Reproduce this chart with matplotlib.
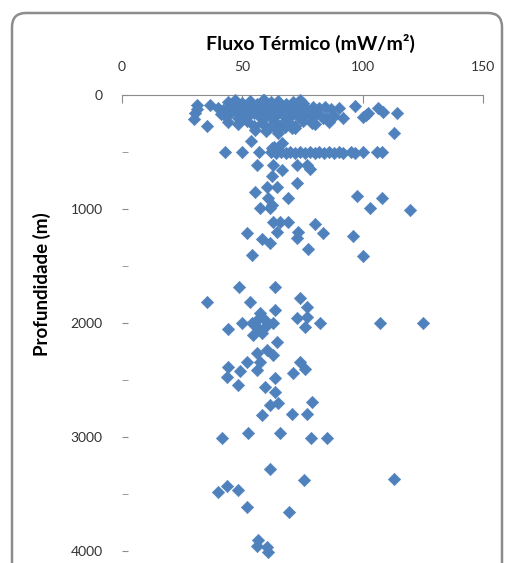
import matplotlib.pyplot as plt
from matplotlib.patches import FancyBboxPatch

flux_top = [31, 36.6, 30.3, 30, 35.2, 31, 96.8, 101.4, 106.5, 108.6, 114.1, 100.3, 102.3,
            91.9, 84.3, 85, 79.5, 75.3, 83.6, 71.9, 78.8, 113, 52.3, 46.9, 58.6, 67.7,
            44, 47, 50, 53, 56, 59, 62, 65, 68, 71, 74, 47,
            40, 42, 45, 47, 49, 51, 54, 56, 58, 60, 62, 64, 66, 68, 70, 72, 74, 77, 80, 82, 87, 90,
            41, 43, 45, 48, 50, 52, 55, 57, 59, 61, 63, 65, 67, 69, 71, 73, 76, 79, 81, 88,
            44, 48, 52, 55, 58, 61, 63, 66, 69, 72, 75, 80, 86, 64, 60,
            65, 55.3, 70.5, 78.8]
depth_top = [88, 88, 161, 213, 268, 120, 96, 175, 117, 146, 161, 190, 161,
             205, 102, 205, 102, 73, 205, 292, 248, 336, 125, 100, 44, 280,
             60, 45, 70, 55, 80, 40, 65, 50, 75, 60, 45, 90,
             110, 130, 100, 120, 140, 105, 125, 95, 135, 110, 125, 100, 140, 115, 95, 130, 105, 120, 135, 110, 125, 110,
             165, 185, 155, 200, 170, 190, 160, 180, 205, 170, 190, 155, 175, 195, 165, 185, 170, 195, 160, 180,
             235, 255, 225, 270, 245, 290, 230, 260, 240, 275, 225, 255, 240, 300, 320,
             336, 307, 292, 234]

flux_500 = [53.6, 62.2, 66.3, 63,
            43, 50, 57, 62, 64, 66, 68, 70, 72, 74, 76, 78, 80, 82, 84, 86, 88, 90, 92, 95, 97, 100, 106, 108,
            56, 62.9, 66.3, 72.6, 76.7, 78.1, 62.2, 72.6]
depth_500 = [404, 468, 424, 455,
             497, 497, 497, 503, 506, 500, 506, 503, 506, 503, 506, 503, 506, 503, 506, 503, 506, 503, 506, 503, 506, 503, 503, 500,
             614, 614, 658, 614, 614, 652, 711, 775]

flux_1000 = [55.3, 60.1, 64.3, 60.8, 69.1, 57.3, 62.2, 61.5, 97.5, 107.9, 103, 119.6,
             62.9, 65.6, 69.1, 80.2, 83.6, 51.8, 64.3, 73.3, 72.6, 58, 61.5, 77.4, 53.9, 95.8, 100]
depth_1000 = [854, 804, 804, 906, 906, 994, 965, 994, 886, 906, 994, 1009,
              1111, 1111, 1111, 1132, 1208, 1208, 1199, 1199, 1257, 1266, 1295, 1354, 1404, 1237, 1409]

flux_2000 = [35.2, 48.7, 63.6, 53.2, 74, 76.7, 57.3, 63.6,
             44.2, 49.7, 53.9, 59.4, 62.9, 56.6, 54.5, 58, 72.6, 76, 82.3, 76.7, 64.3, 107.2, 124.9, 60, 57,
             56, 60.1, 62.9, 57.3, 51.8, 44.2, 43.5, 49, 48.3, 56, 74, 71.2, 76, 63.6, 59.4, 63.6]
depth_2000 = [1813, 1687, 1687, 1813, 1784, 1863, 1909, 1886,
              2056, 2003, 1997, 1974, 1997, 2047, 2105, 2090, 1959, 2032, 2003, 1944, 2164, 2003, 2003, 2030, 1960,
              2266, 2237, 2281, 2339, 2339, 2383, 2471, 2418, 2544, 2412, 2339, 2442, 2406, 2485, 2564, 2602]

flux_3000 = [61.5, 64.9, 78.8, 58, 70.5, 76.7, 41.4, 52.5, 65.6, 78.4, 85.3,
             61.5, 75.6, 113, 40, 43.7, 48.3, 51.8, 69.4, 56.6, 56, 60.1, 60.5]
depth_3000 = [2719, 2705, 2690, 2807, 2798, 2798, 3012, 2968, 2968, 3012, 3012,
              3281, 3377, 3370, 3479, 3430, 3465, 3611, 3661, 3904, 3956, 3962, 4006]

flux = flux_top + flux_500 + flux_1000 + flux_2000 + flux_3000
depth = depth_top + depth_500 + depth_1000 + depth_2000 + depth_3000

W, H = 510, 563
fig = plt.figure(figsize=(W / 100, H / 100), dpi=100)

# moldura arredondada da area do grafico
frame = FancyBboxPatch((12, -40), 490, H - 13 + 40, boxstyle="round,pad=0,rounding_size=14",
                       transform=None, facecolor='white', edgecolor='#8c8c8c', linewidth=1.8,
                       zorder=-10)
fig.add_artist(frame)

ax = fig.add_axes([122 / W, 12 / H, 361 / W, 456 / H])
ax.set_zorder(5)
ax.patch.set_alpha(0)
ax.scatter(flux, depth, marker='D', s=40, color='#4F81BD', edgecolors='#4F81BD',
           linewidths=0.4, zorder=3, clip_on=False)

ax.set_xlim(0, 150)
ax.set_ylim(4000, 0)
ax.xaxis.tick_top()
ax.set_xticks([0, 50, 100, 150])
ax.set_yticks(range(0, 4001, 1000))
ax.set_yticks(range(500, 4000, 1000), minor=True)

for s in ['left', 'right', 'bottom']:
    ax.spines[s].set_visible(False)
ax.spines['top'].set_color('#8c8c8c')

ax.tick_params(axis='x', direction='in', length=6, color='#8c8c8c', pad=16,
               labelsize=10, labelcolor='#333333')
ax.tick_params(axis='y', which='both', direction='in', length=4, color='#8c8c8c', pad=14,
               labelsize=10, labelcolor='#333333')
for lab in ax.get_xticklabels() + ax.get_yticklabels():
    lab.set_family('Lato')

fig.text(310 / W, 1 - 43 / H, 'Fluxo Térmico (mW/m²)', ha='center', va='center',
         fontsize=14, fontweight='bold', family='Lato', zorder=6)
fig.text(42 / W, 1 - 284 / H, 'Profundidade (m)', ha='center', va='center', rotation=90,
         fontsize=13.5, fontweight='bold', family='Lato', zorder=6)

fig.savefig('out.png', dpi=100)
